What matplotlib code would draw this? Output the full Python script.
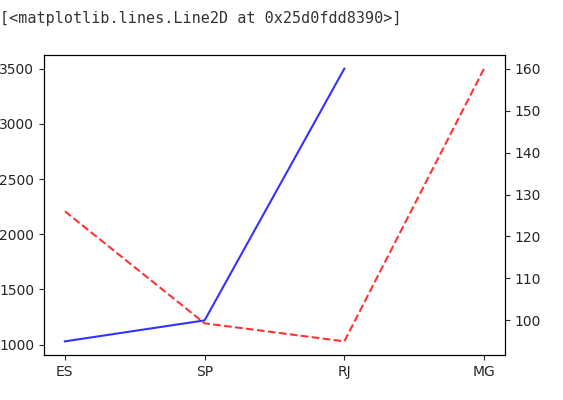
import matplotlib
matplotlib.use("Agg")
import matplotlib.pyplot as plt

# data
states = ["ES", "SP", "RJ", "MG"]
blue_values = [1030, 1220, 3500]          # only the first three states
red_values = [126, 99.3, 95, 160]

header = "[<matplotlib.lines.Line2D at 0x25d0fdd8390>]"

fig = plt.figure(figsize=(5.63, 4.0), dpi=100)
ax1 = fig.add_axes([0.078, 0.1125, 0.819, 0.75])

ax1.plot(states[:3], blue_values, color="blue", alpha=0.8, linewidth=1.5)
ax1.set_xticks(range(len(states)))
ax1.set_xticklabels(states)
ax1.set_xlim(-0.15, 3.15)
ax1.set_yticks([1000, 1500, 2000, 2500, 3000, 3500])

ax2 = ax1.twinx()
ax2.plot(range(len(states)), red_values, color="red", alpha=0.8,
         linestyle="--", linewidth=1.5)
ax2.set_yticks([100, 110, 120, 130, 140, 150, 160])

for a in (ax1, ax2):
    a.tick_params(labelsize=10, colors="#262626", labelcolor="#262626")

fig.text(0.0, 0.955, header, family="DejaVu Sans Mono", fontsize=10.9,
         color="#333333", va="center", ha="left")

fig.savefig("out.png", dpi=100)
